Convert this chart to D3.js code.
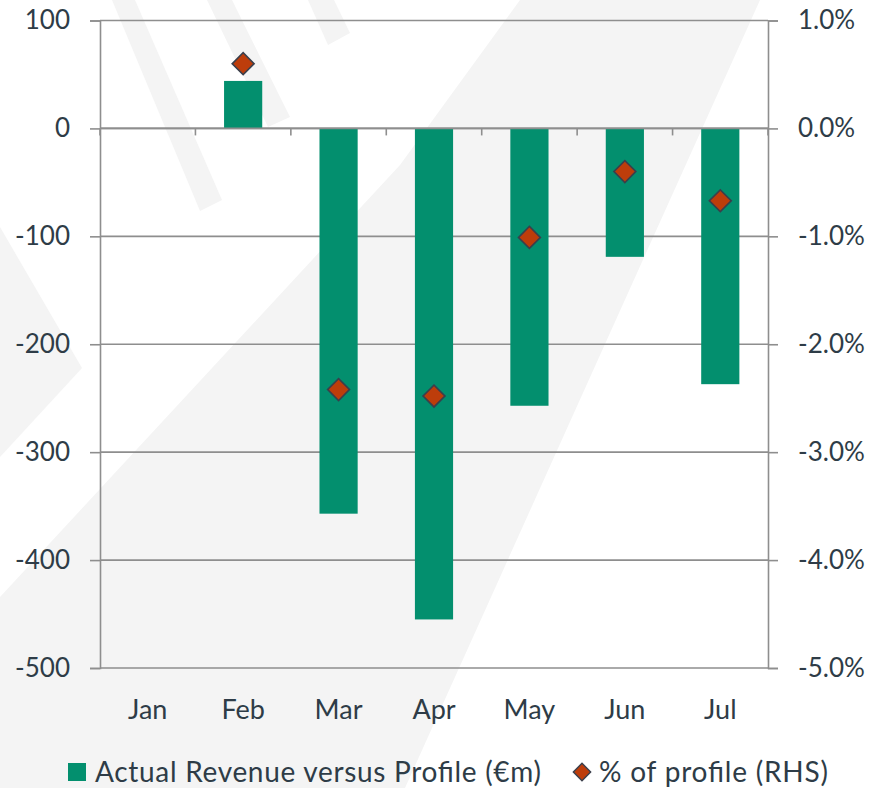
<!DOCTYPE html>
<html>
<head>
<meta charset="utf-8">
<script src="https://cdn.jsdelivr.net/npm/d3@7"></script>
<style>
  body { margin: 0; background: #fff; }
  svg text { font-family: Lato, "Open Sans", sans-serif; fill: #2e3c47; }
</style>
</head>
<body>
<div id="plot"></div>
<script>
// chart data
const months = ["Jan", "Feb", "Mar", "Apr", "May", "Jun", "Jul"];
const revenue = [null, 44, -357, -455, -257, -119, -237];      // €m
const pctProfile = [null, 0.6, -2.42, -2.48, -1.01, -0.4, -0.67]; // %
const leftTicks = [100, 0, -100, -200, -300, -400, -500];
const rightTicks = [1, 0, -1, -2, -3, -4, -5];

const W = 872, H = 788;
const margin = {top: 20.5, right: 104, bottom: 120, left: 100};
const width = W - margin.left - margin.right;
const height = H - margin.top - margin.bottom;

const svg = d3.select("#plot").append("svg")
    .attr("width", W).attr("height", H);

// light watermark shapes in the background
const shapes = [
    [[520,0],[760,0],[405,788],[0,788],[0,597],[400,165]],
    [[0,227],[82,368],[0,457]],
    [[112,0],[135,0],[222,200],[200,211]],
    [[207,0],[232,0],[290,117],[268,127]],
    [[308,0],[334,0],[350,33],[328,45]]
];
svg.append("g").selectAll("polygon").data(shapes).enter()
    .append("polygon")
    .attr("points", d => d.map(p => p.join(",")).join(" "))
    .attr("fill", "#f4f4f4");

const g = svg.append("g")
    .attr("transform", "translate(" + margin.left + "," + margin.top + ")");

const x = d3.scaleBand()
    .domain(months)
    .range([0, width])
    .paddingInner(0.6)
    .paddingOuter(0.3);

const y = d3.scaleLinear().domain([-500, 100]).range([height, 0]);
const y2 = d3.scaleLinear().domain([-5, 1]).range([height, 0]);

const axisColor = "#8e8e8e";

// gridlines
g.append("g").selectAll("line").data(leftTicks).enter()
    .append("line")
    .attr("x1", 0).attr("x2", width)
    .attr("y1", d => y(d)).attr("y2", d => y(d))
    .attr("stroke", axisColor).attr("stroke-width", 1.6);

// left axis
const la = g.append("g")
    .call(d3.axisLeft(y).tickValues(leftTicks).tickSize(10).tickPadding(20).tickFormat(d3.format("d")));
la.selectAll("text").attr("font-size", 26).style("fill", "#2e3c47");

// right axis
const ra = g.append("g")
    .attr("transform", "translate(" + width + ",0)")
    .call(d3.axisRight(y2).tickValues(rightTicks).tickSize(10).tickPadding(20)
        .tickFormat(d => d3.format(".1f")(d) + "%"));
ra.selectAll("text").attr("font-size", 26).style("fill", "#2e3c47");

[la, ra].forEach(a => {
    a.select(".domain").attr("stroke", axisColor).attr("stroke-width", 1.6);
    a.selectAll(".tick line").attr("stroke", axisColor).attr("stroke-width", 1.6);
    a.selectAll("text").text(function() { return this.textContent.replace("\u2212", "-"); });
});

// bars
g.append("g").selectAll("rect")
    .data(months.map((m, i) => ({m: m, v: revenue[i]})).filter(d => d.v !== null))
    .enter().append("rect")
    .attr("x", d => x(d.m))
    .attr("y", d => y(Math.max(0, d.v)))
    .attr("width", x.bandwidth())
    .attr("height", d => Math.abs(y(d.v) - y(0)))
    .attr("fill", "#038f6e");

// category axis along zero line
const step = x.step();
const boundaries = d3.range(months.length + 1).map(i => i * step);
g.append("line")
    .attr("x1", 0).attr("x2", width)
    .attr("y1", y(0)).attr("y2", y(0))
    .attr("stroke", axisColor).attr("stroke-width", 1.6);
g.append("g").selectAll("line").data(boundaries).enter()
    .append("line")
    .attr("x1", d => d).attr("x2", d => d)
    .attr("y1", y(0)).attr("y2", y(0) + 7)
    .attr("stroke", axisColor).attr("stroke-width", 1.6);

g.append("g").selectAll("text").data(months).enter()
    .append("text")
    .attr("x", d => x(d) + x.bandwidth() / 2)
    .attr("y", height + 51)
    .attr("text-anchor", "middle")
    .attr("font-size", 27)
    .text(d => d);

// diamonds (RHS)
const diamond = d3.symbol().type(d3.symbolSquare).size(240);
g.append("g").selectAll("path")
    .data(months.map((m, i) => ({m: m, v: pctProfile[i]})).filter(d => d.v !== null))
    .enter().append("path")
    .attr("d", diamond)
    .attr("transform", d => "translate(" + (x(d.m) + x.bandwidth() / 2) + "," + y2(d.v) + ") rotate(45)")
    .attr("fill", "#bd3d0b")
    .attr("stroke", "#3a3f4c")
    .attr("stroke-width", 1.6);

// legend
const lg = svg.append("g");
lg.append("rect").attr("x", 68).attr("y", 763).attr("width", 18).attr("height", 18).attr("fill", "#038f6e");
lg.append("text").attr("x", 95).attr("y", 782).attr("font-size", 28)
    .attr("textLength", 446).attr("lengthAdjust", "spacing")
    .text("Actual Revenue versus Profile (€m)");
lg.append("path").attr("d", d3.symbol().type(d3.symbolSquare).size(150))
    .attr("transform", "translate(582,772) rotate(45)")
    .attr("fill", "#bd3d0b").attr("stroke", "#3a3f4c").attr("stroke-width", 1.4);
lg.append("text").attr("x", 599).attr("y", 782).attr("font-size", 28)
    .attr("textLength", 229).attr("lengthAdjust", "spacing")
    .text("% of profile (RHS)");
</script>
</body>
</html>
